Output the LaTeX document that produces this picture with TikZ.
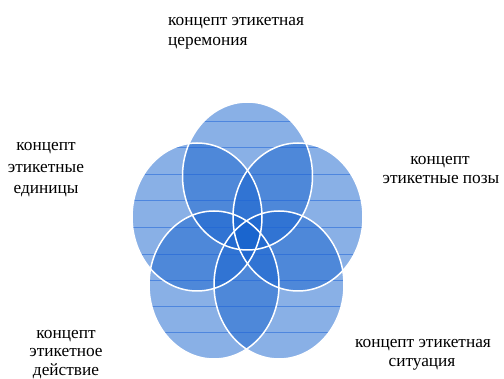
\documentclass[tikz,border=0pt]{standalone}
\usepackage{fontspec}
\setmainfont{Liberation Serif}
\newfontfamily\lblfont{Liberation Serif}
\definecolor{petalblue}{RGB}{20,97,205}
\definecolor{hatchblue}{RGB}{30,100,215}
\begin{document}
\begin{tikzpicture}[x=1pt,y=-1pt,
  petal/.style={fill=petalblue, fill opacity=0.5},
  rim/.style={draw=white, line width=1.5pt},
  hatch/.style={draw=hatchblue, draw opacity=0.55, line width=0.7pt},
  lbl/.style={font=\lblfont\fontsize{17.3}{20}\selectfont, text=black, inner sep=0pt, anchor=base},
  lblw/.style={lbl, anchor=base west}]
\useasboundingbox (0,0) rectangle (504,379);
% petal centres
\coordinate (cT) at (247.5,176);
\coordinate (cR) at (298,217);
\coordinate (cBR) at (279,285);
\coordinate (cBL) at (214,285);
\coordinate (cL) at (197,217);
\def\rx{65pt}
\def\ry{74pt}
% fills
\foreach \c in {cT,cR,cBR,cBL,cL} {
  \fill[petal] (\c) ellipse [x radius=\rx, y radius=\ry];
}
% hatch lines
\begin{scope}
  \clip (cT) ellipse [x radius=\rx, y radius=\ry]
        (cR) ellipse [x radius=\rx, y radius=\ry]
        (cBR) ellipse [x radius=\rx, y radius=\ry]
        (cBL) ellipse [x radius=\rx, y radius=\ry]
        (cL) ellipse [x radius=\rx, y radius=\ry];
  \foreach \yy in {121,147,174,200,227,254,280,306,332} {
    \draw[hatch] (120,\yy) -- (380,\yy);
  }
\end{scope}
% white rims
\foreach \c in {cT,cR,cBR,cBL,cL} {
  \draw[rim] (\c) ellipse [x radius=\rx, y radius=\ry];
}
% labels
\node[lblw] (t1) at (168,26) {концепт этикетная};
\node[lblw] (t2) at (168,46) {церемония};
\node[lbl] (l1) at (46,151) {концепт};
\node[lbl] (l2) at (46,173) {этикетные};
\node[lbl] (l3) at (46,194) {единицы};
\node[lbl] (r1) at (440,165) {концепт};
\node[lbl] (r2) at (441,184) {этикетные позы};
\node[lbl] (b1) at (66,339) {концепт};
\node[lbl] (b2) at (66,357) {этикетное};
\node[lbl] (b3) at (66,376) {действие};
\node[lbl] (s1) at (423,348) {концепт этикетная};
\node[lbl] (s2) at (422,367) {ситуация};
\end{tikzpicture}
\end{document}
